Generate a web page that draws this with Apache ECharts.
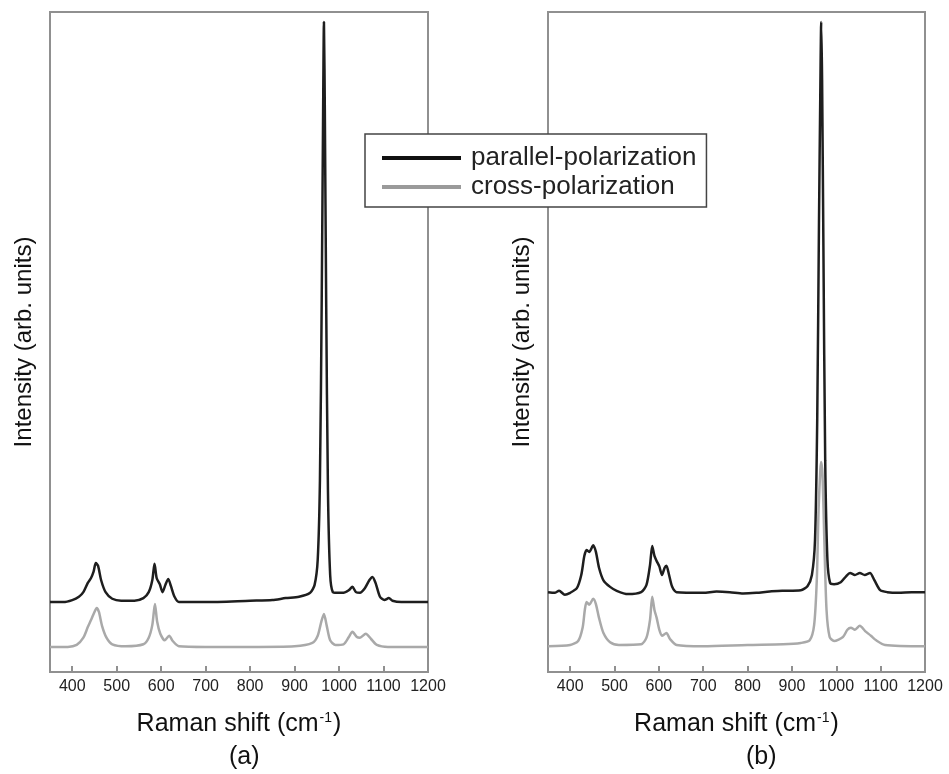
<!DOCTYPE html>
<html>
<head>
<meta charset="utf-8">
<script src="https://cdn.jsdelivr.net/npm/echarts@6/dist/echarts.min.js"></script>
<style>html,body{margin:0;padding:0;background:#fff;}#c{width:949px;height:774px;}</style>
</head>
<body>
<div id="c"></div>
<script>
// Raman shift (cm-1) tick labels
var xTickLabels = [400, 500, 600, 700, 800, 900, 1000, 1100, 1200];
var xTickMarks = [400, 500, 600, 700, 800, 900, 1000, 1100];

// Panel (a): parallel polarization [shift, intensity]
var aParallel = [
  [350,10.6],[380,10.6],[400,10.9],[415,11.4],[425,12.1],[435,13.5],[442,14.2],[448,15.2],[453,16.5],[458,16.1],
  [465,13.9],[475,12.1],[490,11.1],[510,10.8],[540,10.8],[560,11.2],[572,12.1],[580,13.9],[585,16.4],[590,14.2],
  [597,13.3],[603,12.1],[610,13.3],[616,14.1],[622,13.0],[630,11.4],[640,10.6],[700,10.6],[800,10.8],[850,10.9],
  [880,11.2],[910,11.4],[935,12.0],[945,13.2],[952,17.0],[957,29.1],[961,56.4],[964,83.6],[966,98.5],[968,85.2],
  [971,56.4],[975,27.6],[980,14.7],[986,12.1],[995,12.0],[1010,12.0],[1022,12.4],[1030,12.9],[1038,12.1],[1047,12.0],
  [1058,12.7],[1068,13.9],[1075,14.4],[1082,13.5],[1092,11.4],[1102,10.9],[1112,11.2],[1120,10.8],[1140,10.6],[1200,10.6]
];
// Panel (a): cross polarization
var aCross = [
  [350,3.8],[390,3.8],[410,4.1],[425,5.2],[435,6.8],[443,8.0],[450,9.1],[455,9.7],[460,9.1],[467,7.0],
  [477,5.2],[490,4.2],[520,3.9],[560,4.2],[572,5.2],[580,7.1],[586,10.3],[591,7.6],[598,5.8],[608,4.8],
  [618,5.5],[626,4.7],[640,3.9],[700,3.8],[800,3.8],[900,3.9],[940,4.4],[952,5.5],[960,7.6],[966,8.8],
  [972,7.1],[980,4.8],[992,4.1],[1010,4.2],[1022,5.3],[1030,6.1],[1040,5.3],[1047,5.2],[1060,5.8],[1072,5.0],
  [1085,4.1],[1110,3.8],[1200,3.8]
];
// Panel (b): parallel polarization
var bParallel = [
  [350,12.1],[365,12.0],[375,12.3],[388,11.7],[400,12.0],[415,12.7],[425,14.7],[432,17.6],[437,18.5],[443,18.2],
  [452,19.2],[458,18.2],[465,15.8],[475,13.9],[490,12.9],[505,12.3],[530,11.8],[560,12.1],[572,13.2],[580,16.2],
  [585,19.1],[590,17.6],[595,16.8],[601,16.0],[607,14.7],[613,15.8],[617,16.1],[623,14.7],[630,12.9],[640,12.1],
  [700,12.0],[730,12.2],[760,12.1],[790,11.9],[820,12.0],[850,12.2],[880,12.3],[920,12.4],[935,13.0],[945,14.7],
  [952,20.0],[957,38.2],[961,68.5],[964,88.2],[966,98.5],[968,89.7],[971,63.9],[975,32.1],[980,17.0],[986,13.5],
  [995,13.3],[1010,13.6],[1022,14.5],[1031,15.0],[1042,14.7],[1053,15.0],[1064,14.7],[1076,15.0],[1086,13.9],[1099,12.4],
  [1115,12.1],[1140,12.0],[1170,12.1],[1200,12.1]
];
// Panel (b): cross polarization
var bCross = [
  [350,3.9],[400,4.1],[418,4.7],[428,6.7],[433,9.4],[437,10.6],[443,10.2],[452,11.1],[458,10.3],[465,8.2],
  [475,5.9],[490,4.5],[510,4.1],[560,4.2],[572,5.2],[580,7.9],[585,11.4],[590,9.4],[595,8.2],[601,6.4],
  [607,5.5],[617,5.9],[625,5.0],[640,4.1],[700,3.9],[800,4.1],[880,4.2],[920,4.4],[940,4.8],[950,7.1],
  [956,13.9],[960,24.5],[964,30.6],[966,31.8],[969,29.8],[973,20.0],[978,9.4],[985,5.3],[995,4.7],[1015,5.3],
  [1025,6.4],[1033,6.7],[1042,6.4],[1053,7.0],[1065,6.2],[1078,5.5],[1090,4.8],[1110,4.1],[1200,3.9]
];

var seriesNames = ['parallel-polarization', 'cross-polarization'];
var panelLabels = ['(a)', '(b)'];
var xTitle = 'Raman shift (cm';
var yTitle = 'Intensity (arb. units)';

var FONT = 'Liberation Sans, Arial, sans-serif';
var frameColor = '#909090';
var blackColor = '#1e1e1e';
var grayColor = '#a9a9a9';

function xAxis(idx) {
  return {
    type: 'value', gridIndex: idx, min: 350, max: 1200,
    axisLine: { show: false },
    splitLine: { show: false },
    axisTick: { show: true, inside: true, length: 6, customValues: xTickMarks,
      lineStyle: { color: frameColor, width: 2 } },
    axisLabel: { customValues: xTickLabels, margin: 7, fontSize: 16, color: '#222', fontFamily: FONT,
      formatter: function (v) { return String(v); } },
    name: '{a|' + xTitle + '}{s|-1}{a|)}',
    nameLocation: 'middle', nameGap: 39,
    nameTextStyle: {
      rich: {
        a: { fontSize: 25, color: '#111', fontFamily: FONT },
        s: { fontSize: 14, color: '#111', fontFamily: FONT, verticalAlign: 'top', padding: [0, 1, 12, 1] }
      }
    }
  };
}
function yAxis(idx) {
  return {
    type: 'value', gridIndex: idx, min: 0, max: 100,
    axisLine: { show: false }, axisTick: { show: false }, axisLabel: { show: false },
    splitLine: { show: false },
    name: yTitle, nameLocation: 'middle', nameGap: 14,
    nameTextStyle: { fontSize: 24, color: '#111', fontFamily: FONT }
  };
}
function line(name, data, idx, color) {
  return {
    name: name, type: 'line', xAxisIndex: idx, yAxisIndex: idx, data: data,
    symbol: 'none', smooth: 0.25, silent: true, animation: false,
    lineStyle: { color: color, width: 2.5 }, itemStyle: { color: color },
    z: name === seriesNames[0] ? 3 : 2
  };
}

var chart = echarts.init(document.getElementById('c'));
chart.setOption({
  animation: false,
  backgroundColor: '#fff',
  grid: [
    { left: 50, top: 12, width: 378, height: 660, show: true, borderColor: frameColor, borderWidth: 2, backgroundColor: 'transparent' },
    { left: 548, top: 12, width: 377, height: 660, show: true, borderColor: frameColor, borderWidth: 2, backgroundColor: 'transparent' }
  ],
  xAxis: [xAxis(0), xAxis(1)],
  yAxis: [yAxis(0), yAxis(1)],
  legend: {
    data: [
      { name: seriesNames[0], icon: 'rect', itemStyle: { color: '#111' } },
      { name: seriesNames[1], icon: 'rect', itemStyle: { color: '#9a9a9a' } }
    ],
    orient: 'vertical', left: 365, top: 134,
    backgroundColor: '#fff', borderColor: '#444', borderWidth: 1.5, borderRadius: 0,
    padding: [11, 10, 7, 17],
    itemWidth: 79, itemHeight: 4, itemGap: 3,
    selectedMode: false,
    textStyle: { fontSize: 26, lineHeight: 24, color: '#222', fontFamily: FONT, padding: [0, 0, 0, 5] },
    z: 10
  },
  series: [
    line(seriesNames[1], aCross, 0, grayColor),
    line(seriesNames[0], aParallel, 0, blackColor),
    line(seriesNames[1], bCross, 1, grayColor),
    line(seriesNames[0], bParallel, 1, blackColor)
  ],
  graphic: [
    { type: 'text', left: 247 - 18, top: 745, style: { text: panelLabels[0], fill: '#111', font: '25px ' + FONT } },
    { type: 'text', left: 764 - 18, top: 745, style: { text: panelLabels[1], fill: '#111', font: '25px ' + FONT } }
  ]
});
</script>
</body>
</html>
